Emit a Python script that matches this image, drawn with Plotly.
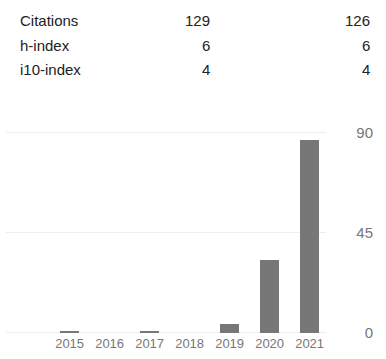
import plotly.graph_objects as go

W, H = 386, 359

# ---- data ----
years = [2015, 2016, 2017, 2018, 2019, 2020, 2021]
citations = [1, 0, 1, 0, 4, 33, 87]
y_ticks = [0, 45, 90]

row_labels = ["Citations", "h-index", "i10-index"]
col_all = [129, 6, 4]
col_since = [126, 6, 4]

FONT = "Arial, Liberation Sans, sans-serif"

fig = go.Figure()
fig.add_trace(go.Bar(
    x=years, y=citations,
    marker=dict(color="#777777", line=dict(width=0)),
    width=0.475,
    hoverinfo="skip",
))

# table as annotations
row_y = [20, 45, 70]
ann = []
for lab, a, b, ry in zip(row_labels, col_all, col_since, row_y):
    yy = 1 - ry / H
    ann.append(dict(text=lab, x=18 / W, y=yy, xref="paper", yref="paper",
                    xanchor="left", yanchor="middle", showarrow=False,
                    font=dict(family=FONT, size=15, color="#222222")))
    ann.append(dict(text=str(a), x=212 / W, y=yy, xref="paper", yref="paper",
                    xanchor="right", yanchor="middle", showarrow=False,
                    font=dict(family=FONT, size=15, color="#222222")))
    ann.append(dict(text=str(b), x=372 / W, y=yy, xref="paper", yref="paper",
                    xanchor="right", yanchor="middle", showarrow=False,
                    font=dict(family=FONT, size=15, color="#222222")))

PAD = 0.6  # small padding so edge gridlines are drawn
ppu = 200 / 90  # pixels per unit
fig.update_layout(
    width=W, height=H,
    margin=dict(l=0, r=0, t=0, b=0, autoexpand=False),
    paper_bgcolor="white", plot_bgcolor="white",
    showlegend=False,
    annotations=ann,
    xaxis=dict(
        domain=[6 / W, 326 / W],
        range=[2013.41, 2021.41],
        tickmode="array", tickvals=years, ticktext=[str(y) for y in years],
        showgrid=False, zeroline=False, showline=False, ticks="",
        tickfont=dict(family=FONT, size=13, color="#777777"),
        automargin=False,
        fixedrange=True,
    ),
    yaxis=dict(
        domain=[(H - 333 - PAD * ppu) / H, (H - 133 + PAD * ppu) / H],
        range=[-PAD, 90 + PAD],
        tickmode="array", tickvals=y_ticks,
        showgrid=True, gridcolor="#eeeeee", gridwidth=1,
        zeroline=False, showline=False, ticks="",
        anchor="free", position=373 / W, side="left",
        tickfont=dict(family=FONT, size=15, color="#777777"),
        automargin=False,
        fixedrange=True,
    ),
    bargap=0,
)

fig.write_html("out.html", config={"displayModeBar": False})
